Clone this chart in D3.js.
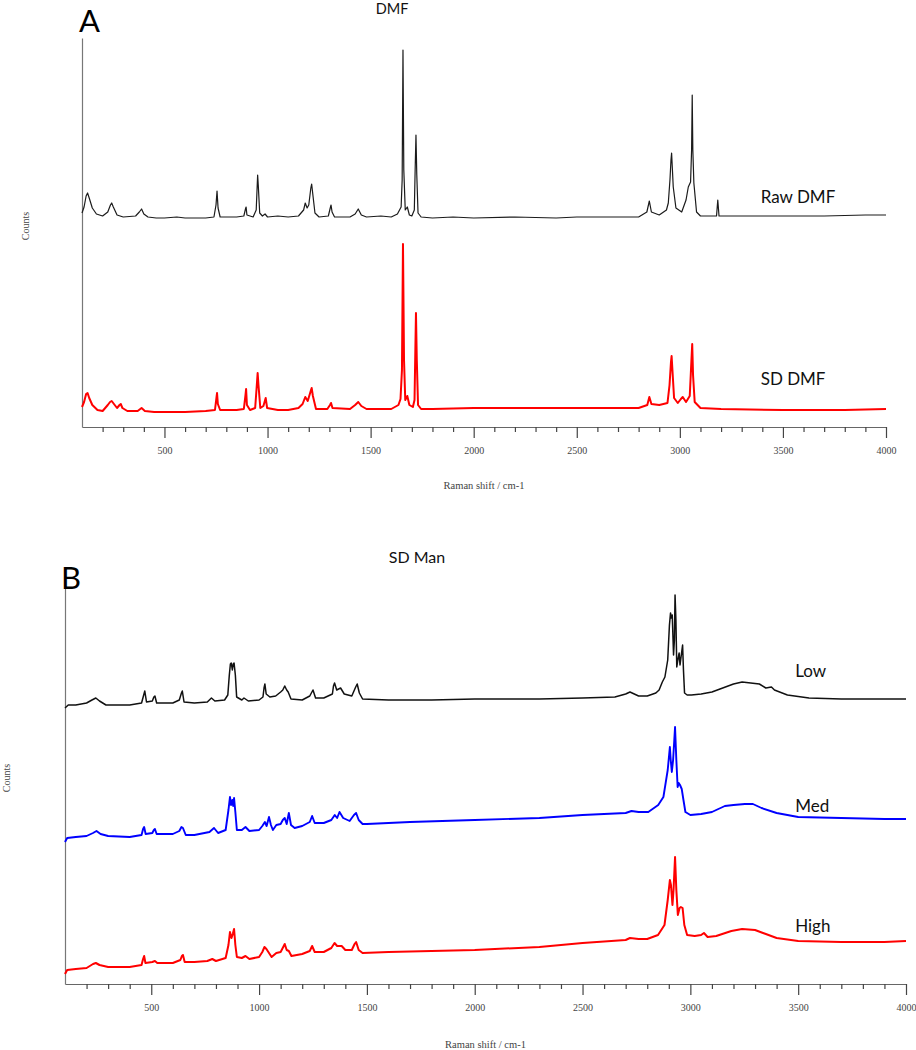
<!DOCTYPE html>
<html>
<head>
<meta charset="utf-8">
<script src="https://cdn.jsdelivr.net/npm/d3@7"></script>
<style>
  html, body { margin: 0; padding: 0; background: #fff; }
  svg { display: block; }
</style>
</head>
<body>
<svg id="chart" width="916" height="1050"></svg>
<script>
// ---------------- DATA (Raman shift cm-1, relative counts) ----------------
const xDomain = [100, 4000];
const majorTicks = [500, 1000, 1500, 2000, 2500, 3000, 3500, 4000];
const minorTicks = d3.range(200, 4001, 100);

// Panel A: DMF
const rawDMF = [
  [100,214],[110,220],[120,231],[127,234],[135,229],[150,219],[170,213],[200,211],[225,215],[238,222],[244,224],[252,220],[270,212],[300,210],[360,211],[378,215],[389,218],[400,213],[420,210],[460,209],[500,209],[560,210],[600,209],[650,209],[700,209],[740,210],[750,222],[755,236],[760,219],[770,210],[850,210],[885,211],[893,218],[896,220],[900,212],[930,210],[945,217],[950,242],[952,252],[955,242],[962,214],[975,211],[988,213],[1000,210],[1050,211],[1100,210],[1150,211],[1175,217],[1183,224],[1192,219],[1200,222],[1210,239],[1214,243],[1220,232],[1230,214],[1250,210],[1295,211],[1303,218],[1308,222],[1313,215],[1325,210],[1400,210],[1425,213],[1440,218],[1455,212],[1480,210],[1550,211],[1600,210],[1630,213],[1648,220],[1653,247],[1657,377],[1661,257],[1668,217],[1678,220],[1688,212],[1700,211],[1712,217],[1716,257],[1720,292],[1724,252],[1730,214],[1745,210],[1800,209],[1900,210],[2000,209],[2200,210],[2400,209],[2500,210],[2700,210],[2800,210],[2840,215],[2852,226],[2862,215],[2900,212],[2935,217],[2944,224],[2952,247],[2957,267],[2960,274],[2964,257],[2968,240],[2981,219],[3009,215],[3030,227],[3041,240],[3052,245],[3057,277],[3060,332],[3063,277],[3068,244],[3081,215],[3100,211],[3178,211],[3184,227],[3190,211],[3300,211],[3500,211],[3700,211],[3900,212],[4000,212]
];
const sdDMF = [
  [100,20],[110,25],[120,33],[127,34],[135,29],[150,22],[175,17],[200,16],[225,22],[236,25],[244,26],[255,23],[270,19],[282,22],[288,23],[296,19],[320,16],[370,16],[389,19],[405,16],[450,15],[500,15],[600,15],[700,16],[745,17],[752,29],[755,34],[759,23],[770,17],[850,17],[885,18],[893,32],[896,38],[900,22],[915,17],[940,19],[948,42],[952,54],[956,42],[965,19],[980,21],[991,29],[998,19],[1050,17],[1100,17],[1150,19],[1170,23],[1183,30],[1195,26],[1208,35],[1214,39],[1220,31],[1235,18],[1290,18],[1303,22],[1308,24],[1315,19],[1400,18],[1425,22],[1440,25],[1455,21],[1480,18],[1600,18],[1635,22],[1645,28],[1652,57],[1657,183],[1662,67],[1668,27],[1678,31],[1688,22],[1705,20],[1713,27],[1717,77],[1720,114],[1724,67],[1730,22],[1745,18],[1800,18],[2000,19],[2200,19],[2500,19],[2800,19],[2842,22],[2852,30],[2862,23],[2900,22],[2940,24],[2950,42],[2957,65],[2960,71],[2964,57],[2972,29],[2990,24],[3005,28],[3014,30],[3030,25],[3048,31],[3054,57],[3060,83],[3064,52],[3072,25],[3100,19],[3200,18],[3500,17],[3800,17],[4000,18]
];

// Panel B: SD Man
const lowMan = [
  [100,276],[115,279],[150,279],[200,281],[225,284],[243,286],[260,283],[290,279],[400,279],[455,281],[465,289],[470,293],[478,282],[505,283],[512,287],[517,288],[525,281],[600,281],[630,284],[640,291],[644,293],[652,282],[700,281],[760,282],[779,286],[795,283],[840,284],[855,289],[862,309],[867,320],[871,321],[876,314],[880,320],[884,321],[890,309],[896,287],[920,284],[930,286],[950,283],[1000,284],[1018,287],[1023,296],[1027,300],[1033,290],[1050,287],[1077,288],[1100,292],[1110,294],[1119,298],[1128,294],[1135,292],[1148,285],[1200,284],[1235,288],[1250,294],[1262,286],[1300,286],[1340,290],[1345,298],[1350,301],[1360,294],[1378,296],[1395,290],[1430,288],[1448,297],[1455,300],[1465,291],[1480,285],[1600,284],[1800,284],[2000,285],[2300,285],[2500,286],[2650,287],[2700,290],[2720,292],[2760,288],[2800,288],[2840,291],[2855,294],[2870,302],[2882,307],[2895,324],[2903,359],[2908,371],[2912,366],[2916,369],[2922,329],[2926,344],[2929,389],[2933,364],[2937,317],[2942,324],[2948,331],[2952,319],[2958,329],[2964,339],[2968,314],[2973,291],[2985,289],[3005,289],[3050,290],[3100,292],[3150,296],[3200,300],[3240,302],[3280,301],[3320,300],[3350,296],[3376,297],[3390,294],[3450,289],[3550,286],[3700,285],[4000,285]
];
const medMan = [
  [100,142],[110,146],[150,147],[200,148],[230,151],[246,153],[265,150],[300,148],[400,147],[455,149],[462,155],[467,157],[474,150],[505,151],[512,154],[517,155],[525,150],[600,150],[630,153],[640,157],[647,156],[660,149],[700,149],[770,152],[791,156],[810,151],[845,154],[858,174],[865,187],[870,179],[876,184],[880,178],[884,186],[890,172],[897,154],[920,154],[937,157],[955,153],[1000,154],[1015,158],[1027,162],[1035,158],[1046,167],[1055,159],[1064,154],[1080,159],[1100,160],[1110,164],[1119,166],[1128,160],[1138,171],[1148,159],[1165,156],[1200,158],[1235,162],[1246,168],[1258,161],[1300,161],[1335,164],[1351,169],[1362,166],[1373,172],[1390,166],[1420,163],[1440,169],[1450,171],[1462,164],[1480,160],[1500,160],[1700,162],[2000,164],[2300,166],[2500,169],[2700,171],[2727,173],[2760,172],[2805,172],[2851,179],[2875,187],[2895,214],[2905,237],[2909,224],[2914,212],[2920,224],[2929,257],[2935,224],[2941,197],[2946,201],[2952,199],[2960,195],[2968,184],[2977,172],[3000,169],[3050,170],[3100,172],[3160,178],[3200,179],[3253,180],[3290,180],[3330,176],[3400,171],[3500,167],[3700,166],[3900,165],[4000,165]
];
const highMan = [
  [100,10],[110,14],[150,15],[200,16],[230,20],[243,21],[260,19],[300,17],[400,17],[455,19],[462,25],[467,28],[473,21],[505,22],[517,23],[528,21],[600,21],[635,24],[642,28],[647,29],[655,22],[700,22],[760,23],[783,25],[800,23],[845,26],[858,39],[865,52],[872,46],[878,50],[884,55],[890,39],[897,27],[920,26],[937,28],[955,25],[1000,27],[1015,32],[1025,37],[1034,35],[1043,32],[1058,27],[1080,31],[1100,32],[1112,37],[1119,40],[1128,34],[1138,33],[1150,28],[1200,30],[1235,33],[1246,38],[1258,32],[1300,32],[1335,36],[1350,41],[1362,38],[1383,38],[1400,34],[1430,34],[1443,40],[1450,42],[1462,34],[1480,31],[1600,32],[1800,33],[2000,34],[2300,37],[2500,41],[2700,44],[2720,46],[2760,45],[2800,45],[2850,49],[2880,59],[2895,84],[2905,104],[2910,99],[2917,79],[2922,94],[2929,127],[2935,94],[2942,69],[2950,76],[2956,77],[2964,76],[2972,59],[2985,49],[3020,48],[3050,49],[3063,51],[3080,47],[3120,48],[3190,53],[3240,55],[3300,54],[3350,50],[3400,46],[3500,43],[3700,42],[3900,42],[4000,43]
];

const seriesNames = { rawDMF: "Raw DMF", sdDMF: "SD DMF", low: "Low", med: "Med", high: "High" };

// ---------------- LAYOUT ----------------
const svg = d3.select("#chart");
const serif = "'Liberation Serif', 'DejaVu Serif', serif";
const sans = "Lato, 'Open Sans', sans-serif";

const panels = [
  {
    letter: "A", letterPos: [79, 32], letterSize: 31, title: "DMF", titlePos: [392, 14], titleSize: 14.5,
    left: 82, right: 886, top: 38, bottom: 427, yMax: 389,
    countsPos: [29, 226], xlabelY: 489,
    series: [
      { data: rawDMF, name: seriesNames.rawDMF, color: "#1b1b1b", width: 1.2, label: [3392, 224] },
      { data: sdDMF, name: seriesNames.sdDMF, color: "#ff0000", width: 2, label: [3392, 42] }
    ]
  },
  {
    letter: "B", letterPos: [61, 589], letterSize: 31, title: "SD Man", titlePos: [417, 563], titleSize: 16,
    left: 65, right: 906, top: 588, bottom: 984, yMax: 396,
    countsPos: [10, 778], xlabelY: 1048,
    series: [
      { data: lowMan, name: seriesNames.low, color: "#111111", width: 1.5, label: [3486, 307] },
      { data: medMan, name: seriesNames.med, color: "#0000ff", width: 1.9, label: [3486, 172] },
      { data: highMan, name: seriesNames.high, color: "#ff0000", width: 2, label: [3486, 52] }
    ]
  }
];

panels.forEach(p => {
  const x = d3.scaleLinear().domain(xDomain).range([p.left, p.right]);
  const y = d3.scaleLinear().domain([0, p.yMax]).range([p.bottom, p.top]);
  const g = svg.append("g");

  // x axis
  const ax = d3.axisBottom(x)
    .tickValues(minorTicks)
    .tickSizeOuter(0)
    .tickPadding(10)
    .tickFormat(d => majorTicks.includes(d) ? d : "");
  const axG = g.append("g").attr("transform", `translate(0,${p.bottom})`).call(ax);
  axG.select(".domain").attr("stroke", "#666").attr("stroke-width", 1.2);
  axG.selectAll(".tick line")
    .attr("stroke", "#444")
    .attr("stroke-width", 1.2)
    .attr("y2", d => majorTicks.includes(d) ? 11 : 5);
  axG.selectAll(".tick text")
    .attr("font-family", serif)
    .attr("font-size", 10)
    .attr("fill", "#444")
    .attr("y", 20);

  // y axis (no ticks)
  const ay = d3.axisLeft(y).tickValues([]).tickSizeOuter(0);
  const ayG = g.append("g").attr("transform", `translate(${p.left},0)`).call(ay);
  ayG.select(".domain").attr("stroke", "#777").attr("stroke-width", 1.2);

  // lines
  const line = d3.line().x(d => x(d[0])).y(d => y(d[1]));
  p.series.forEach(s => {
    g.append("path")
      .datum(s.data)
      .attr("fill", "none")
      .attr("stroke", s.color)
      .attr("stroke-width", s.width)
      .attr("stroke-linejoin", "round")
      .attr("d", line);
    g.append("text")
      .attr("x", x(s.label[0]))
      .attr("y", y(s.label[1]))
      .attr("font-family", sans)
      .attr("font-size", 17)
      .attr("fill", "#111")
      .text(s.name);
  });

  // axis labels
  g.append("text")
    .attr("x", (p.left + p.right) / 2)
    .attr("y", p.xlabelY)
    .attr("text-anchor", "middle")
    .attr("font-family", serif)
    .attr("font-size", 10.5)
    .attr("fill", "#444")
    .text("Raman shift / cm-1");
  g.append("text")
    .attr("transform", `translate(${p.countsPos[0]},${p.countsPos[1]}) rotate(-90)`)
    .attr("text-anchor", "middle")
    .attr("font-family", serif)
    .attr("font-size", 10)
    .attr("fill", "#444")
    .text("Counts");

  // title & panel letter
  g.append("text")
    .attr("x", p.titlePos[0]).attr("y", p.titlePos[1])
    .attr("text-anchor", "middle")
    .attr("font-family", sans)
    .attr("font-size", p.titleSize)
    .attr("fill", "#111")
    .text(p.title);
  g.append("text")
    .attr("x", p.letterPos[0]).attr("y", p.letterPos[1])
    .attr("font-family", sans)
    .attr("font-size", p.letterSize)
    .attr("fill", "#000")
    .text(p.letter);
});
</script>
</body>
</html>
